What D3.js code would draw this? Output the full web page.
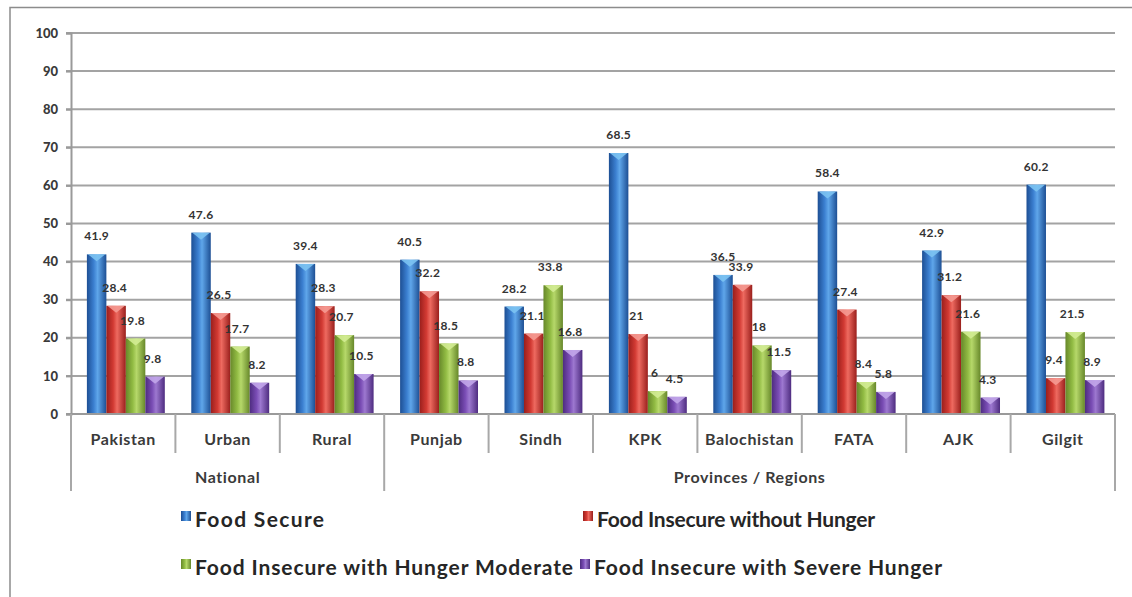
<!DOCTYPE html>
<html><head><meta charset="utf-8">
<script src="https://cdn.jsdelivr.net/npm/d3@7"></script>
<style>
html,body{margin:0;padding:0;background:#fff;}
svg{display:block;}
</style></head>
<body>
<svg id="chart" width="1132" height="597"></svg>
<script>
const categories = ["Pakistan","Urban","Rural","Punjab","Sindh","KPK","Balochistan","FATA","AJK","Gilgit"];
const groups = [{name:"National", from:0, to:2},{name:"Provinces / Regions", from:3, to:9}];
const seriesNames = ["Food Secure","Food Insecure without Hunger","Food Insecure with Hunger Moderate","Food Insecure with Severe Hunger"];
const foodSecure      = [41.9, 47.6, 39.4, 40.5, 28.2, 68.5, 36.5, 58.4, 42.9, 60.2];
const withoutHunger   = [28.4, 26.5, 28.3, 32.2, 21.1, 21,   33.9, 27.4, 31.2, 9.4];
const moderateHunger  = [19.8, 17.7, 20.7, 18.5, 33.8, 6,    18,   8.4,  21.6, 21.5];
const severeHunger    = [9.8,  8.2,  10.5, 8.8,  16.8, 4.5,  11.5, 5.8,  4.3,  8.9];
const yTicks = [0,10,20,30,40,50,60,70,80,90,100];

(function(){
const seriesValues = [foodSecure, withoutHunger, moderateHunger, severeHunger];
const colors = [
  {dark:"#1d4f94", mid:"#3b7fd0", light:"#5fa6ea", cap:"#7cc3f2"},
  {dark:"#9a1f1c", mid:"#d23a33", light:"#ee6a60", cap:"#f59a92"},
  {dark:"#67882a", mid:"#91bb43", light:"#b6d86a", cap:"#d3ec93"},
  {dark:"#4e2c80", mid:"#7a4db5", light:"#9d78d0", cap:"#c2a6ea"}
];
const font = "Lato, 'Open Sans', sans-serif";

const svg = d3.select("#chart");
const defs = svg.append("defs");
colors.forEach((c,i)=>{
  const g = defs.append("linearGradient").attr("id","g"+i).attr("x1","0").attr("x2","1").attr("y1","0").attr("y2","0");
  g.append("stop").attr("offset","0%").attr("stop-color",c.dark);
  g.append("stop").attr("offset","35%").attr("stop-color",c.mid);
  g.append("stop").attr("offset","55%").attr("stop-color",c.light);
  g.append("stop").attr("offset","100%").attr("stop-color",c.dark);
});

// frame
svg.append("rect").attr("x",10).attr("y",7.5).attr("width",1140).attr("height",620)
  .attr("fill","none").attr("stroke","#8c8c8c").attr("stroke-width",1.5);

const pLeft = 71, pRight = 1115, pTop = 33, pBottom = 414;
const y = d3.scaleLinear().domain([0,100]).range([pBottom, pTop]);
const x0 = d3.scaleBand().domain(categories).range([pLeft, pRight]).paddingInner(0).paddingOuter(0);
const x1 = d3.scaleBand().domain(d3.range(4)).range([0, x0.bandwidth()]).paddingInner(0).paddingOuter(0.68).align(0.6);

// gridlines
svg.append("g").selectAll("line").data(yTicks).join("line")
  .attr("x1",pLeft-5).attr("x2",pRight).attr("y1",d=>y(d)).attr("y2",d=>y(d))
  .attr("stroke","#a3a3a3").attr("stroke-width",2);

// y axis
const yAxis = d3.axisLeft(y).tickValues(yTicks).tickSize(5).tickPadding(8);
const ya = svg.append("g").attr("transform",`translate(${pLeft},0)`).call(yAxis);
ya.select(".domain").attr("stroke","#9a9a9a").attr("stroke-width",2);
ya.selectAll(".tick line").attr("stroke","#9a9a9a").attr("stroke-width",2);
ya.selectAll("text").attr("font-family",font).attr("font-weight","900")
  .attr("font-size",13).attr("fill","#3a3a3a");

// bars
const barG = svg.append("g");
const labelShift = [0,-1.5,-3,-2.5];
categories.forEach((cat,ci)=>{
  seriesValues.forEach((vals,si)=>{
    const v = vals[ci];
    const bx = x0(cat) + x1(si);
    const bw = x1.bandwidth();
    const by = y(v);
    barG.append("rect").attr("x",bx).attr("y",by).attr("width",bw).attr("height",pBottom-by)
      .attr("fill",`url(#g${si})`);
    barG.append("path")
      .attr("d",`M${bx+1},${by} L${bx+bw-1},${by} L${bx+bw/2},${by+7} Z`)
      .attr("fill",colors[si].cap).attr("opacity",0.9);
    barG.append("text")
      .attr("x", bx + bw/2 + labelShift[si])
      .attr("y", by - 14)
      .attr("text-anchor","middle")
      .attr("font-family",font).attr("font-weight","bold")
      .attr("font-size",12).attr("letter-spacing",0.3).attr("fill","#333")
      .text(v);
  });
});

// x axis baseline
svg.append("line").attr("x1",pLeft-5).attr("x2",pRight).attr("y1",pBottom).attr("y2",pBottom)
  .attr("stroke","#9a9a9a").attr("stroke-width",2);

// category separators
const bounds = d3.range(categories.length+1).map(i=> i<categories.length ? x0(categories[i]) : pRight);
const groupBounds = new Set([0,3,10]);
svg.append("g").selectAll("line").data(bounds).join("line")
  .attr("x1",d=>d).attr("x2",d=>d).attr("y1",pBottom)
  .attr("y2",(d,i)=>groupBounds.has(i)?491:453)
  .attr("stroke","#a8a8a8").attr("stroke-width",2);

// category labels
svg.append("g").selectAll("text").data(categories).join("text")
  .attr("x",d=>x0(d)+x0.bandwidth()/2).attr("y",445)
  .attr("text-anchor","middle")
  .attr("font-family",font).attr("font-weight","bold")
  .attr("font-size",16).attr("letter-spacing",0.6).attr("fill","#3a3a3a").text(d=>d);

// group labels
svg.append("g").selectAll("text").data(groups).join("text")
  .attr("x",d=>(x0(categories[d.from]) + x0(categories[d.to]) + x0.bandwidth())/2)
  .attr("y",483).attr("text-anchor","middle")
  .attr("font-family",font).attr("font-weight","bold")
  .attr("font-size",16).attr("letter-spacing",0.6).attr("fill","#3a3a3a").text(d=>d.name);

// legend
const legendPos = [
  {x:181, y:520, w:129},
  {x:583, y:520, w:278},
  {x:181, y:568, w:378},
  {x:580, y:568, w:348}
];
const lg = svg.append("g");
seriesNames.forEach((n,i)=>{
  const p = legendPos[i];
  lg.append("rect").attr("x",p.x).attr("y",p.y-9).attr("width",10).attr("height",10)
    .attr("fill",`url(#g${i})`);
  lg.append("text").attr("x",p.x+14).attr("y",p.y+7)
    .attr("font-family",font).attr("font-weight","bold")
    .attr("font-size",21).attr("fill","#262626")
    .attr("textLength",p.w).attr("lengthAdjust","spacing")
    .text(n);
});
})();
</script>
</body></html>
